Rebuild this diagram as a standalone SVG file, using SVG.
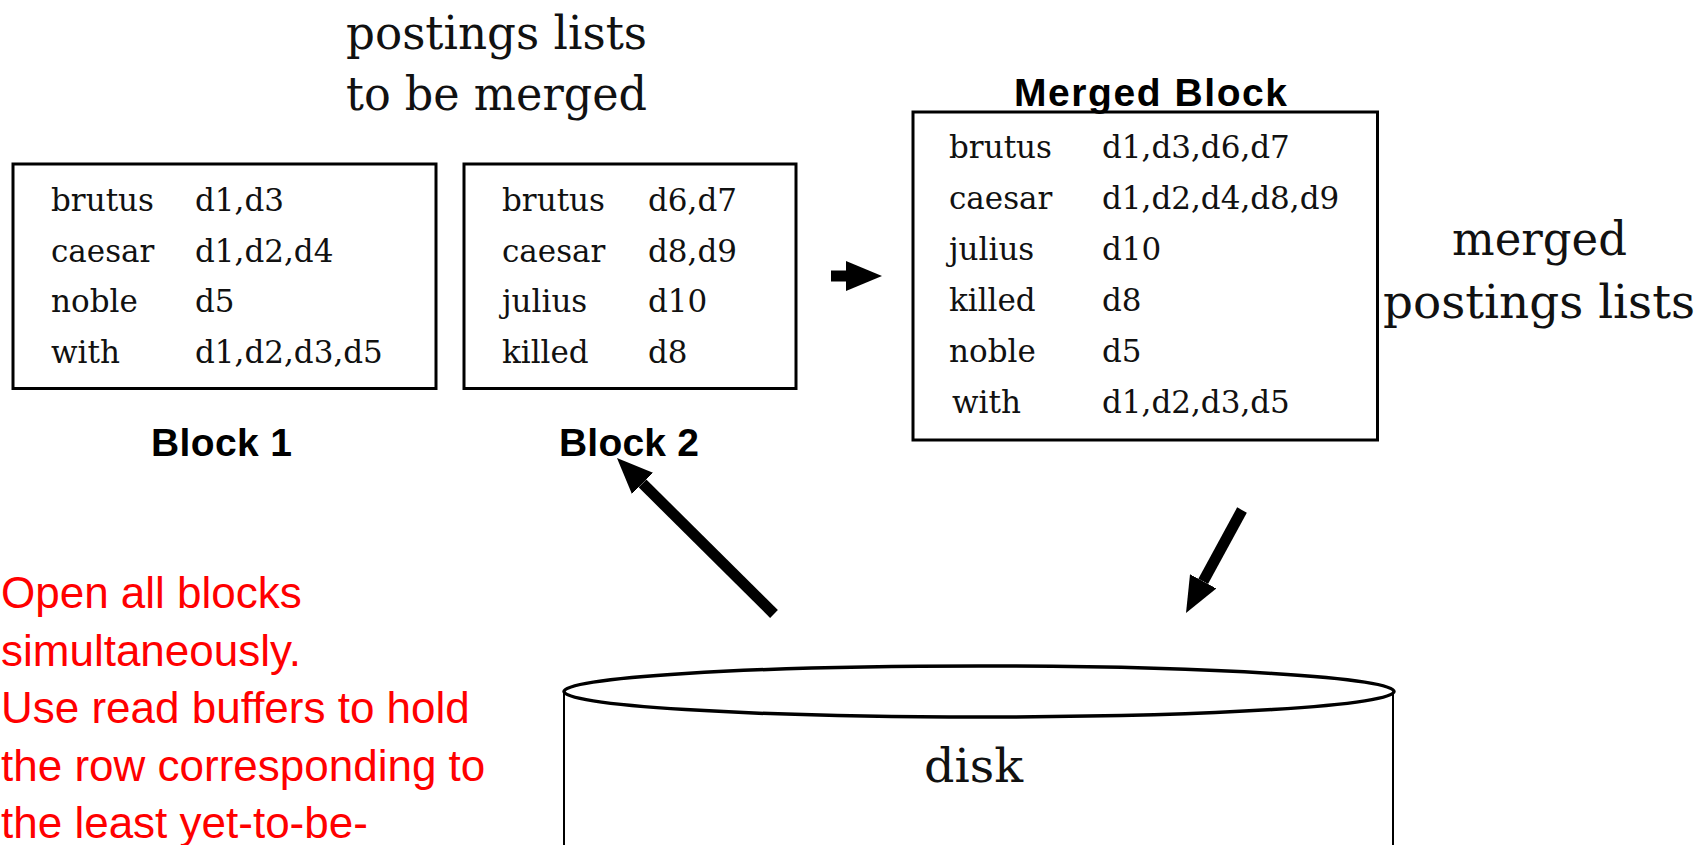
<svg xmlns="http://www.w3.org/2000/svg" width="1706" height="845" viewBox="0 0 1706 845">
<style>
.box{fill:none;stroke:#000;stroke-width:3}
.cell{font-family:"DejaVu Serif","Liberation Serif",serif;font-size:31px;fill:#111}
.big{font-family:"DejaVu Serif","Liberation Serif",serif;font-size:47px;fill:#111;text-anchor:middle}
.lbl{font-family:"Liberation Sans",Arial,sans-serif;font-weight:bold;font-size:39px;fill:#000}
.note{font-family:"Liberation Sans",Arial,sans-serif;font-size:44px;fill:#FF0000}
.conn{stroke:#000;stroke-width:11;fill:none;marker-end:url(#head)}
</style>
<defs>
<marker id="head" viewBox="0 0 36 30" refX="0" refY="15" markerWidth="36" markerHeight="30" markerUnits="userSpaceOnUse" orient="auto">
<path d="M0,0 L36,15 L0,30 Z" fill="#000"/>
</marker>
</defs>
<rect width="1706" height="845" fill="#fff"/>

<g id="title">
<text class="big" x="496.5" y="49" textLength="301" lengthAdjust="spacingAndGlyphs">postings lists</text>
<text class="big" x="496.5" y="110" textLength="301" lengthAdjust="spacingAndGlyphs">to be merged</text>
</g>

<g id="block1">
<rect class="box" x="13" y="164" width="423" height="224.5"/>
<text class="cell" x="51" y="211">brutus</text><text class="cell" x="195" y="211">d1,d3</text>
<text class="cell" x="51" y="261.5">caesar</text><text class="cell" x="195" y="261.5">d1,d2,d4</text>
<text class="cell" x="51" y="312">noble</text><text class="cell" x="195" y="312">d5</text>
<text class="cell" x="51" y="362.5">with</text><text class="cell" x="195" y="362.5">d1,d2,d3,d5</text>
<text class="lbl" x="151" y="456" textLength="141">Block 1</text>
</g>

<g id="block2">
<rect class="box" x="464" y="164" width="332" height="224.5"/>
<text class="cell" x="502" y="211">brutus</text><text class="cell" x="648" y="211">d6,d7</text>
<text class="cell" x="502" y="261.5">caesar</text><text class="cell" x="648" y="261.5">d8,d9</text>
<text class="cell" x="502" y="312">julius</text><text class="cell" x="648" y="312">d10</text>
<text class="cell" x="502" y="362.5">killed</text><text class="cell" x="648" y="362.5">d8</text>
<text class="lbl" x="559" y="456" textLength="140">Block 2</text>
</g>

<g id="merged">
<text class="lbl" x="1014" y="106" textLength="273">Merged Block</text>
<rect class="box" x="913" y="112" width="464.5" height="328"/>
<text class="cell" x="949" y="158">brutus</text><text class="cell" x="1102" y="158">d1,d3,d6,d7</text>
<text class="cell" x="949" y="208.5">caesar</text><text class="cell" x="1102" y="208.5">d1,d2,d4,d8,d9</text>
<text class="cell" x="949" y="260">julius</text><text class="cell" x="1102" y="260">d10</text>
<text class="cell" x="949" y="311">killed</text><text class="cell" x="1102" y="311">d8</text>
<text class="cell" x="949" y="362">noble</text><text class="cell" x="1102" y="362">d5</text>
<text class="cell" x="952" y="413">with</text><text class="cell" x="1102" y="413">d1,d2,d3,d5</text>
</g>

<g id="merged-label">
<text class="big" x="1539.5" y="255" textLength="175" lengthAdjust="spacingAndGlyphs">merged</text>
<text class="big" x="1539" y="318" textLength="312" lengthAdjust="spacingAndGlyphs">postings lists</text>
</g>

<g id="disk">
<ellipse cx="979" cy="691.5" rx="415" ry="25.5" fill="none" stroke="#000" stroke-width="3.5"/>
<line x1="564" y1="692" x2="564" y2="845" stroke="#000" stroke-width="2"/>
<line x1="1393" y1="692" x2="1393" y2="845" stroke="#000" stroke-width="2"/>
<text class="big" x="973.5" y="782" font-size="48" textLength="99" lengthAdjust="spacingAndGlyphs">disk</text>
</g>

<g id="note">
<text class="note" x="1" y="608">Open all blocks</text>
<text class="note" x="1" y="665.5">simultaneously.</text>
<text class="note" x="1" y="723">Use read buffers to hold</text>
<text class="note" x="1" y="780.5">the row corresponding to</text>
<text class="note" x="1" y="838">the least yet-to-be-</text>
</g>

<g id="connectors">
<line class="conn" x1="831" y1="276" x2="846" y2="276"/>
<line class="conn" x1="774" y1="614" x2="642.5" y2="483.4"/>
<line class="conn" x1="1242" y1="510" x2="1203.2" y2="581.4"/>
</g>
</svg>
